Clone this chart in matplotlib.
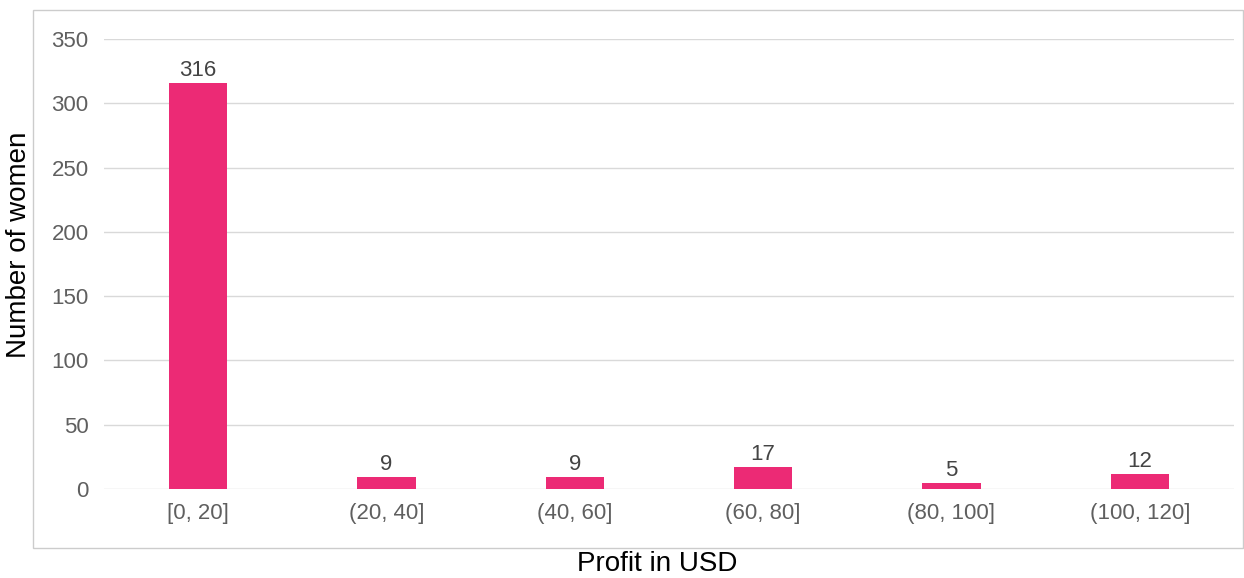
import matplotlib.pyplot as plt
from matplotlib.patches import Rectangle

categories = ['[0, 20]', '(20, 40]', '(40, 60]', '(60, 80]', '(80, 100]', '(100, 120]']
counts = [316, 9, 9, 17, 5, 12]

plt.rcParams['font.family'] = ['Liberation Sans', 'DejaVu Sans']

fig = plt.figure(figsize=(12.44, 5.78), dpi=100)
ax = fig.add_axes([104 / 1244, 89 / 578, 1130 / 1244, 450 / 578])

x = range(len(categories))
bars = ax.bar(x, counts, width=0.31, color='#ec2a75', zorder=3)
for xi, c in zip(x, counts):
    ax.text(xi, c + 1.5, str(c), ha='center', va='bottom', fontsize=16, color='#444444')

ax.set_xlim(-0.5, len(categories) - 0.5)
ax.set_ylim(0, 350)
ax.set_yticks(range(0, 351, 50))
ax.set_xticks(list(x))
ax.set_xticklabels(categories)
ax.tick_params(length=0, labelsize=16, labelcolor='#5f5f5f')
ax.tick_params(axis='y', pad=11)
ax.tick_params(axis='x', pad=10)
ax.grid(axis='y', color='#d9d9d9', linewidth=1, zorder=0)
for s in ax.spines.values():
    s.set_visible(False)

fig.text(657 / 1244, 1 - 564 / 578, 'Profit in USD', ha='center', va='center', fontsize=20)
fig.text(19 / 1244, 1 - 245 / 578, 'Number of women', ha='center', va='center', rotation=90, fontsize=20)

fig.patches.append(Rectangle((33 / 1244, 30 / 578), 1210 / 1244, 538 / 578,
                             transform=fig.transFigure, fill=False, edgecolor='#cccccc', linewidth=1))

fig.savefig('out.png', dpi=100)
